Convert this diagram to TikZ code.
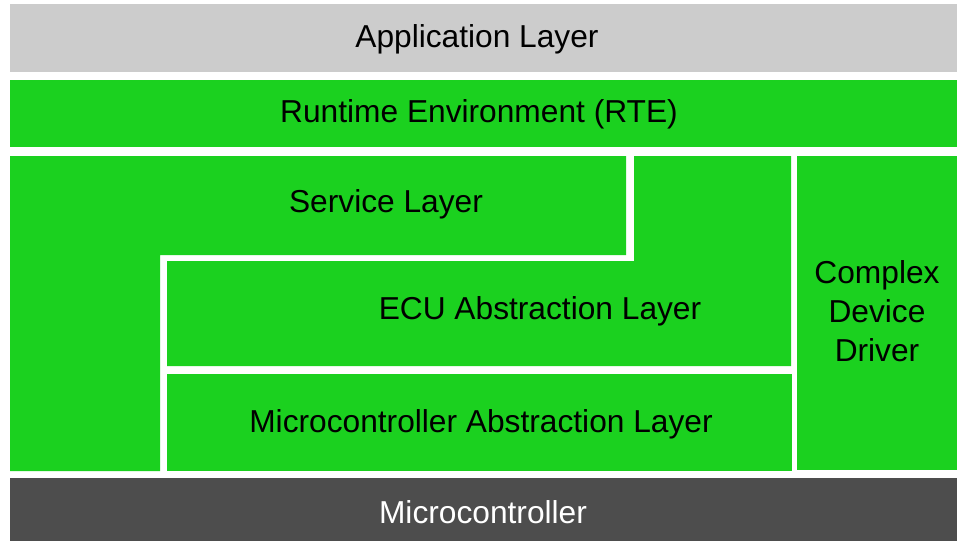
\documentclass[tikz,border=0pt]{standalone}
\usepackage{fontspec}
\setmainfont{Liberation Sans}
\definecolor{appgrey}{HTML}{CCCCCC}
\definecolor{layergreen}{HTML}{1BD11F}
\definecolor{mcgrey}{HTML}{4D4D4D}
\begin{document}
\begin{tikzpicture}[x=1pt,y=-1pt,
  lbl/.style={font=\fontsize{31.7}{39}\selectfont, text=black, inner sep=0pt, align=center},
  greenfill/.style={fill=layergreen, draw=none}]
\useasboundingbox (0,0) rectangle (957,541);
% Application layer
\fill[appgrey] (10,4) rectangle (957,72);
\node[lbl] (app) at (477,39) {Application Layer};
% RTE
\fill[layergreen] (10,80) rectangle (957,147);
\node[lbl] (rte) at (479,114) {Runtime Environment (RTE)};
% Service layer (L-shape)
\fill[layergreen] (10,156) -- (626,156) -- (626,255) -- (160,255) -- (160,471) -- (10,471) -- cycle;
\node[lbl] (svc) at (386,204) {Service Layer};
% ECU abstraction layer (L-shape)
\fill[layergreen] (634,156) -- (791,156) -- (791,366) -- (167,366) -- (167,261) -- (634,261) -- cycle;
\node[lbl] (ecu) at (540,311) {ECU Abstraction Layer};
% Microcontroller abstraction layer
\fill[layergreen] (167,374) rectangle (792,471);
\node[lbl] (mcal) at (481,424) {Microcontroller Abstraction Layer};
% Complex device driver
\fill[layergreen] (797,156) rectangle (957,470);
\node[lbl] (cdd) at (877,311) {Complex\\Device\\Driver};
% Microcontroller
\fill[mcgrey] (10,478) rectangle (957,541);
\node[lbl, text=white] (mc) at (483,512) {Microcontroller};
\end{tikzpicture}
\end{document}
